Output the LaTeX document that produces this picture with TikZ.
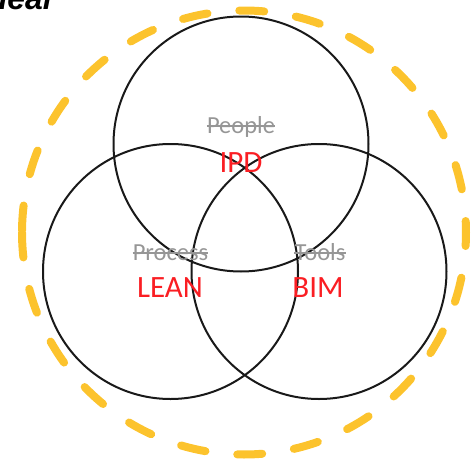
\documentclass[tikz,border=0pt]{standalone}
\usepackage{fontspec}
\setmainfont{Carlito}
\newfontfamily\titlefont{Liberation Sans}
\definecolor{venngold}{RGB}{252,195,45}
\definecolor{strikegray}{RGB}{150,150,150}
\definecolor{vennred}{RGB}{250,30,35}
\definecolor{ringblack}{RGB}{25,25,25}
\begin{document}
\begin{tikzpicture}[x=1pt,y=-1pt,
  ring/.style={draw=ringblack,line width=2pt},
  halo/.style={draw=venngold,line width=8pt,line cap=round,dash pattern=on 25pt off 32pt},
  oldlabel/.style={text=strikegray,font=\fontsize{24.5}{24.5}\selectfont,inner sep=0pt,anchor=base},
  newlabel/.style={text=vennred,font=\fontsize{31}{31}\selectfont,inner sep=0pt,anchor=base},
  strike/.style={draw=strikegray,line width=1.4pt}]
\useasboundingbox (0,0) rectangle (475,461);
% partial title at the top edge
\node[inner sep=0pt,anchor=base east,font=\titlefont\bfseries\itshape\fontsize{32}{32}\selectfont] (title) at (52,9) {Ideal};
% dashed halo
\coordinate (hc) at (244,232.5);
\draw[halo] (hc) ++(180:222) arc (180:-180:222);
% three circles
\node[ring,circle,minimum size=255pt,inner sep=0pt] (people) at (241,144) {};
\node[ring,circle,minimum size=255pt,inner sep=0pt] (process) at (170.5,271.5) {};
\node[ring,circle,minimum size=255pt,inner sep=0pt] (tools) at (319,271.5) {};
% labels
\node[oldlabel] (lp) at (241,133) {People};
\node[newlabel] (ipd) at (241,172) {IPD};
\node[oldlabel] (lpr) at (170.5,260) {Process};
\node[newlabel] (lean) at (170,297) {LEAN};
\node[oldlabel] (lt) at (320,260) {Tools};
\node[newlabel] (bim) at (318,297) {BIM};
% strike-through lines
\draw[strike] ([yshift=7pt]lp.base west) -- ([yshift=7pt]lp.base east);
\draw[strike] ([yshift=7pt]lpr.base west) -- ([yshift=7pt]lpr.base east);
\draw[strike] ([yshift=7pt]lt.base west) -- ([yshift=7pt]lt.base east);
\end{tikzpicture}
\end{document}
